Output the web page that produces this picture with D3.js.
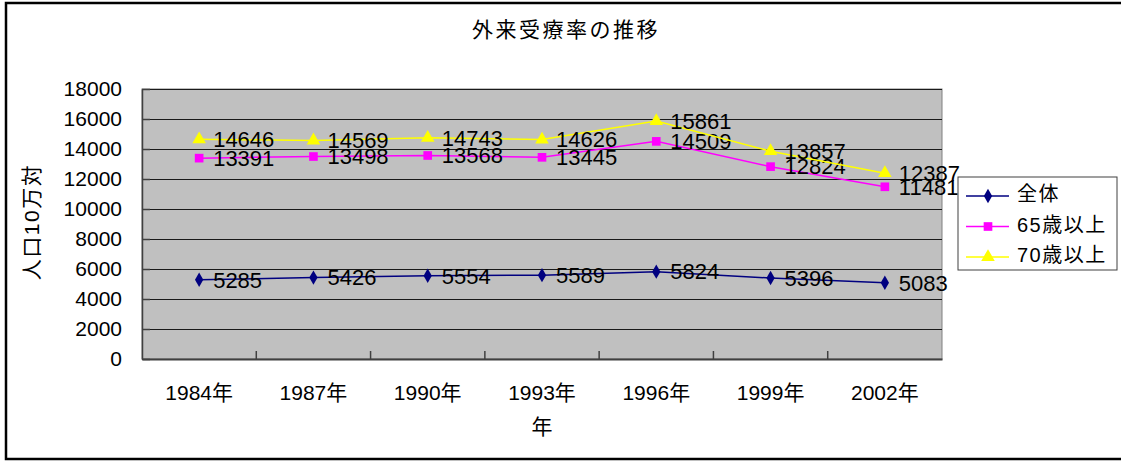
<!DOCTYPE html>
<html>
<head>
<meta charset="utf-8">
<script src="https://cdn.jsdelivr.net/npm/d3@7"></script>
<style>
  body { margin: 0; background: #fff; }
  text { font-family: "Liberation Sans", "Noto Sans CJK JP", sans-serif; fill: #000; }
</style>
</head>
<body>
<script>
const years = ["1984年", "1987年", "1990年", "1993年", "1996年", "1999年", "2002年"];
const seriesNames = ["全体", "65歳以上", "70歳以上"];
const zentai = [5285, 5426, 5554, 5589, 5824, 5396, 5083];
const over65 = [13391, 13498, 13568, 13445, 14509, 12824, 11481];
const over70 = [14646, 14569, 14743, 14626, 15861, 13857, 12387];
const yTicks = [0, 2000, 4000, 6000, 8000, 10000, 12000, 14000, 16000, 18000];

const w = 1121;
const h = 462;
const plot = { left: 142, top: 89, right: 942, bottom: 359 };
const colors = ["#000080", "#FF00FF", "#FFFF00"];
const symbols = [d3.symbolDiamond, d3.symbolSquare, d3.symbolTriangle];
const symbolSizes = [60, 75, 80];

const series = [zentai, over65, over70].map((values, i) => ({
  name: seriesNames[i],
  color: colors[i],
  symbol: symbols[i],
  size: symbolSizes[i],
  values: values.map((v, j) => ({ year: years[j], value: v }))
}));

const svg = d3.select("body").append("svg").attr("width", w).attr("height", h);

// outer frame
svg.append("rect")
  .attr("x", 6).attr("y", 3)
  .attr("width", w).attr("height", 456)
  .attr("fill", "#fff")
  .attr("stroke", "#000")
  .attr("stroke-width", 2.5);

const xScale = d3.scaleBand().domain(years).range([plot.left, plot.right]).padding(0);
const yScale = d3.scaleLinear().domain([0, 18000]).range([plot.bottom, plot.top]);

// plot area
svg.append("rect")
  .attr("x", plot.left).attr("y", plot.top)
  .attr("width", plot.right - plot.left)
  .attr("height", plot.bottom - plot.top)
  .attr("fill", "#C0C0C0")
  .attr("stroke", "#808080")
  .attr("stroke-width", 1);

// gridlines
svg.append("g")
  .attr("transform", `translate(${plot.left}, 0)`)
  .call(d3.axisLeft(yScale).tickValues(yTicks.slice(1)).tickSize(-(plot.right - plot.left)).tickFormat(""))
  .call((g) => g.select(".domain").remove())
  .call((g) => g.selectAll("line").attr("stroke", "#1a1a1a").attr("stroke-width", 1));

// y axis
svg.append("g")
  .attr("id", "y-axis")
  .attr("transform", `translate(${plot.left}, 0)`)
  .call(d3.axisLeft(yScale).tickValues(yTicks).tickFormat(d3.format("d")).tickSize(-8).tickPadding(20).tickSizeOuter(0))
  .call((g) => g.select(".domain").attr("stroke", "#404040").attr("stroke-width", 1.5))
  .call((g) => g.selectAll("line").attr("stroke", "#404040").attr("stroke-width", 1.5))
  .call((g) => g.selectAll("text").attr("font-size", 21).attr("font-family", null));

// x axis
svg.append("g")
  .attr("id", "x-axis")
  .attr("transform", `translate(0, ${plot.bottom})`)
  .call(d3.axisBottom(xScale).tickSize(0).tickPadding(26))
  .call((g) => g.select(".domain").attr("stroke", "#404040").attr("stroke-width", 2))
  .call((g) => g.selectAll("text").attr("font-size", 21).attr("font-family", null));

// x ticks at category boundaries
svg.append("g")
  .selectAll("line")
  .data(years.slice(1))
  .enter()
  .append("line")
  .attr("x1", (d) => xScale(d))
  .attr("x2", (d) => xScale(d))
  .attr("y1", plot.bottom - 8)
  .attr("y2", plot.bottom)
  .attr("stroke", "#404040")
  .attr("stroke-width", 1.5);

const cx = (d) => xScale(d.year) + xScale.bandwidth() / 2;
const line = d3.line().x(cx).y((d) => yScale(d.value));

series.forEach((s) => {
  const g = svg.append("g");
  g.append("path")
    .datum(s.values)
    .attr("fill", "none")
    .attr("stroke", s.color)
    .attr("stroke-width", 1.5)
    .attr("d", line);
  g.selectAll("path.marker")
    .data(s.values)
    .enter()
    .append("path")
    .attr("class", "marker")
    .attr("d", d3.symbol().type(s.symbol).size(s.size))
    .attr("transform", (d) => `translate(${cx(d)}, ${yScale(d.value)})`)
    .attr("fill", s.color);
  g.selectAll("text")
    .data(s.values)
    .enter()
    .append("text")
    .attr("x", (d) => cx(d) + 14)
    .attr("y", (d) => yScale(d.value) + 2)
    .attr("dominant-baseline", "middle")
    .attr("font-size", 22)
    .text((d) => d.value);
});

// title
svg.append("text")
  .attr("x", 566)
  .attr("y", 31)
  .attr("text-anchor", "middle")
  .attr("dominant-baseline", "middle")
  .attr("font-size", 21)
  .attr("letter-spacing", "2.5px")
  .text("外来受療率の推移");

// axis titles
svg.append("text")
  .attr("x", 542)
  .attr("y", 428)
  .attr("text-anchor", "middle")
  .attr("dominant-baseline", "middle")
  .attr("font-size", 21)
  .text("年");

svg.append("text")
  .attr("transform", "translate(33, 222) rotate(-90)")
  .attr("text-anchor", "middle")
  .attr("dominant-baseline", "middle")
  .attr("font-size", 21)
  .attr("letter-spacing", "1.5px")
  .text("人口10万対");

// legend
const legend = svg.append("g").attr("transform", "translate(958, 177)");
legend.append("rect")
  .attr("width", 159)
  .attr("height", 93)
  .attr("fill", "#fff")
  .attr("stroke", "#404040")
  .attr("stroke-width", 1);

const items = legend.selectAll("g.item")
  .data(series)
  .enter()
  .append("g")
  .attr("class", "item")
  .attr("transform", (d, i) => `translate(0, ${19 + i * 30.5})`);
items.append("line")
  .attr("x1", 8).attr("x2", 51)
  .attr("stroke", (d) => d.color)
  .attr("stroke-width", 1.5);
items.append("path")
  .attr("d", (d) => d3.symbol().type(d.symbol).size(d.size)())
  .attr("transform", "translate(30, 0)")
  .attr("fill", (d) => d.color);
items.append("text")
  .attr("x", 59)
  .attr("dominant-baseline", "middle")
  .attr("font-size", 20)
  .attr("letter-spacing", "1.5px")
  .text((d) => d.name);
</script>
</body>
</html>
